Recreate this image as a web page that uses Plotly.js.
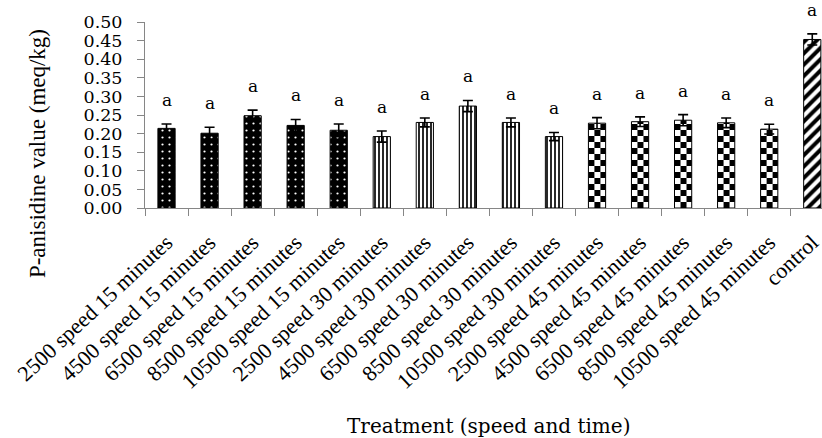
<!DOCTYPE html>
<html>
<head>
<meta charset="utf-8">
<script src="https://cdn.plot.ly/plotly-3.0.1.min.js"></script>
<style>
html,body{margin:0;padding:0;background:#fff;overflow:hidden;}
#chart{width:822px;height:438px;}
</style>
</head>
<body>
<div id="chart"></div>
<script>
// ---- data ----
var categories = [
  "2500 speed 15 minutes","4500 speed 15 minutes","6500 speed 15 minutes","8500 speed 15 minutes","10500 speed 15 minutes",
  "2500 speed 30 minutes","4500 speed 30 minutes","6500 speed 30 minutes","8500 speed 30 minutes","10500 speed 30 minutes",
  "2500 speed 45 minutes","4500 speed 45 minutes","6500 speed 45 minutes","8500 speed 45 minutes","10500 speed 45 minutes",
  "control"
];
var pAnisidine = [0.214,0.201,0.248,0.222,0.209, 0.192,0.230,0.274,0.230,0.192, 0.228,0.232,0.236,0.229,0.212, 0.453];
var stdErr     = [0.012,0.016,0.015,0.016,0.017, 0.015,0.012,0.015,0.012,0.011, 0.015,0.013,0.015,0.013,0.013, 0.015];
var letters    = ["a","a","a","a","a","a","a","a","a","a","a","a","a","a","a","a"];
var groupSlices = [[0,5],[5,10],[10,15],[15,16]];
var yTickVals = [0,0.05,0.10,0.15,0.20,0.25,0.30,0.35,0.40,0.45,0.50];

var patterns = [
  {shape:".", bgcolor:"#000", fgcolor:"#fff", size:7, solidity:0.08, fillmode:"replace"},
  {shape:"|", bgcolor:"#fff", fgcolor:"#000", size:4, solidity:0.42, fillmode:"replace"},
  {shape:"+", bgcolor:"#fff", fgcolor:"#000", size:12, solidity:0.5, fillmode:"replace"},
  {shape:"/", bgcolor:"#fff", fgcolor:"#000", size:8, solidity:0.5, fillmode:"replace"}
];

var data = groupSlices.map(function(s, i){
  return {
    type:"bar",
    x: categories.slice(s[0], s[1]),
    y: pAnisidine.slice(s[0], s[1]),
    width: 0.4,
    marker:{color:"#000", line:{color:"#000", width:1}, pattern: patterns[i]},
    error_y:{type:"data", array: stdErr.slice(s[0], s[1]), visible:true, color:"#000", thickness:1.6, width:5},
    hoverinfo:"skip",
    showlegend:false
  };
});

var annotations = categories.map(function(c, i){
  return {x:c, y:pAnisidine[i] + stdErr[i], xref:"x", yref:"y", text:letters[i], showarrow:false,
          yanchor:"middle", yshift:24, font:{family:"DejaVu Serif", size:17, color:"#000"}};
});
annotations.push({xref:"paper", yref:"paper", x:0.508, y:-1.172, text:"Treatment (speed and time)",
  showarrow:false, xanchor:"center", yanchor:"middle", font:{family:"DejaVu Serif", size:20, color:"#000"}});
annotations.push({xref:"paper", yref:"paper", x:-0.1595, y:0.29, text:"P-anisidine value (meq/kg)", textangle:-90,
  showarrow:false, xanchor:"center", yanchor:"middle", font:{family:"Liberation Serif", size:23, color:"#000"}});

var layout = {
  width:822, height:438,
  margin:{l:145, r:0, t:22, b:230, pad:0},
  paper_bgcolor:"#fff", plot_bgcolor:"#fff",
  barmode:"overlay",
  xaxis:{type:"category", categoryorder:"array", categoryarray:categories, range:[-0.5, 15.226],
    tickson:"boundaries", ticks:"outside", ticklen:7, tickcolor:"#868686", tickwidth:1,
    showline:true, linecolor:"#868686", linewidth:1, showgrid:false, zeroline:false,
    ticklabelstandoff:12,
    tickangle:-43, tickfont:{family:"Liberation Serif", size:22, color:"#000"}, automargin:false},
  yaxis:{range:[0,0.5], tickvals:yTickVals, tickformat:".2f", ticks:"outside", ticklen:7,
    tickcolor:"#868686", tickwidth:1, showline:true, linecolor:"#868686", linewidth:1,
    showgrid:false, zeroline:false, ticklabelstandoff:11,
    tickfont:{family:"DejaVu Serif", size:17.5, color:"#000"}, automargin:false},
  annotations: annotations
};

var gd = document.getElementById("chart");
Plotly.newPlot(gd, data, layout, {displayModeBar:false, staticPlot:true}).then(function(){
  // checkerboard fill for the 45-minute group
  var ns = "http://www.w3.org/2000/svg";
  var svg = gd.querySelector("svg.main-svg");
  var defs = svg.querySelector("defs");
  var traces = gd.querySelectorAll(".barlayer .trace");
  if (!traces[2]) return;
  var paths = traces[2].querySelectorAll(".point path");
  paths.forEach(function(p, k){
    var bb = p.getBBox();
    var cell = 6;
    var pat = document.createElementNS(ns, "pattern");
    pat.setAttribute("id", "checker" + k);
    pat.setAttribute("patternUnits", "userSpaceOnUse");
    pat.setAttribute("x", bb.x);
    pat.setAttribute("y", bb.y + bb.height);
    pat.setAttribute("width", 2*cell);
    pat.setAttribute("height", 2*cell);
    var bg = document.createElementNS(ns, "rect");
    bg.setAttribute("width", 2*cell); bg.setAttribute("height", 2*cell); bg.setAttribute("fill", "#fff");
    var r1 = document.createElementNS(ns, "rect");
    r1.setAttribute("x", 0); r1.setAttribute("y", 0); r1.setAttribute("width", cell); r1.setAttribute("height", cell); r1.setAttribute("fill", "#000");
    var r2 = document.createElementNS(ns, "rect");
    r2.setAttribute("x", cell); r2.setAttribute("y", cell); r2.setAttribute("width", cell); r2.setAttribute("height", cell); r2.setAttribute("fill", "#000");
    pat.appendChild(bg); pat.appendChild(r1); pat.appendChild(r2);
    defs.appendChild(pat);
    p.style.fill = "url(#checker" + k + ")";
  });
});
</script>
</body>
</html>
